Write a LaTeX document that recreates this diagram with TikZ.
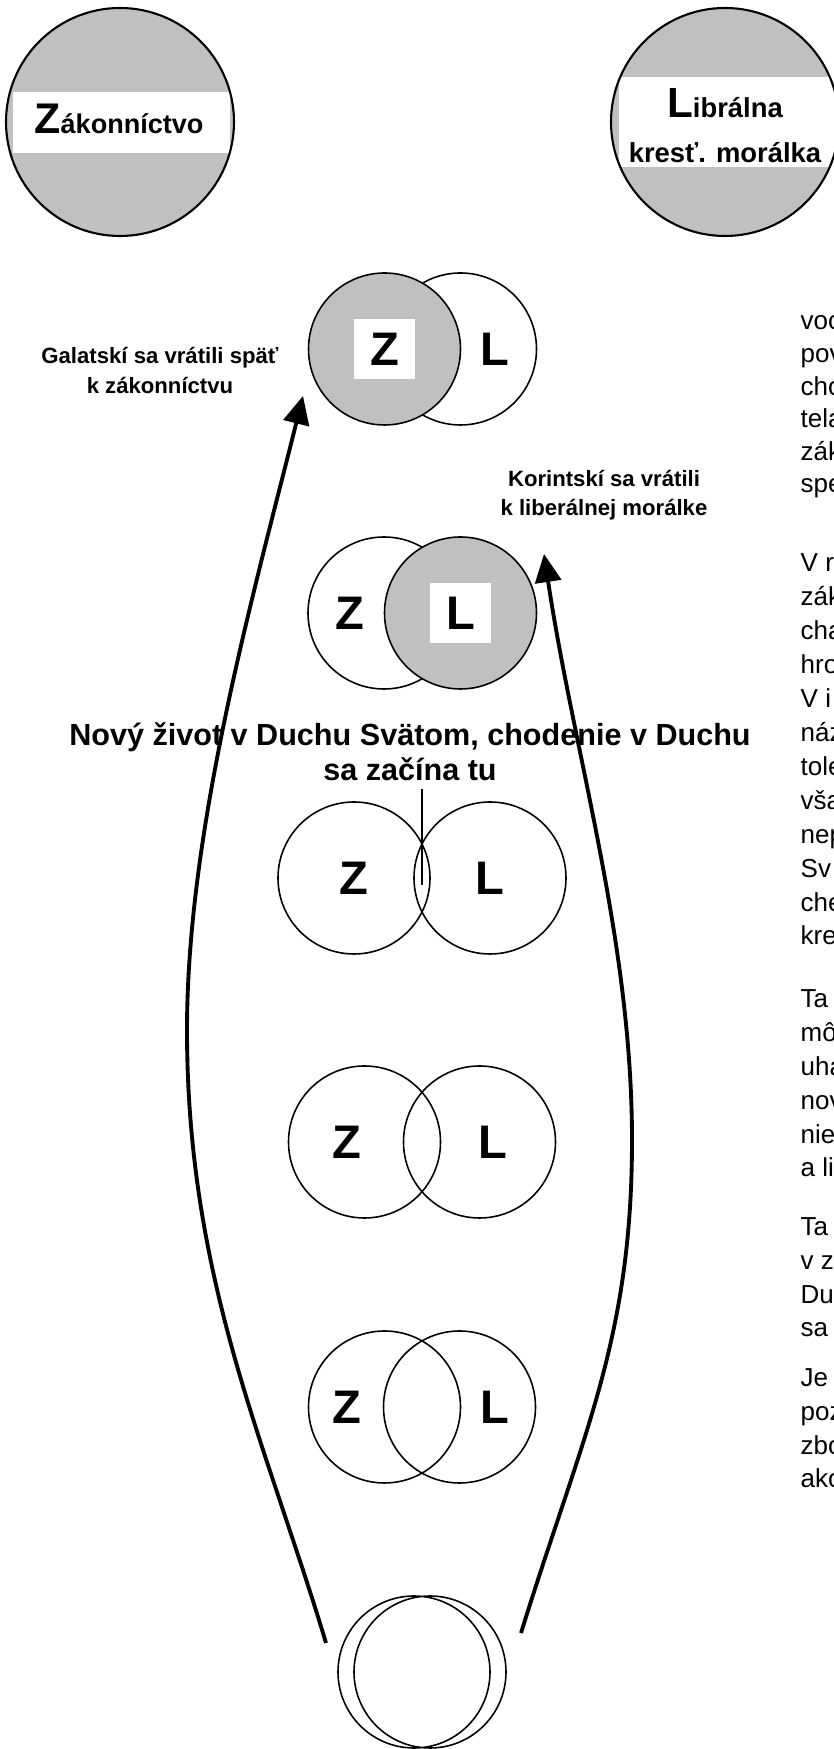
\documentclass[tikz,border=0pt]{standalone}
\usepackage{fontspec}
\setmainfont{Liberation Sans}
\usetikzlibrary{arrows.meta}
\definecolor{zlgray}{RGB}{192,192,192}
\tikzset{
  ring/.style={draw=black, line width=0.45pt},
  shaded/.style={ring, fill=zlgray},
  letter/.style={font=\fontsize{13.4}{14}\selectfont\bfseries, inner sep=0pt},
  letterbox/.style={letter, fill=white, minimum width=0.61cm, minimum height=0.60cm},
  sidelabel/.style={font=\fontsize{6.3}{8.8}\selectfont\bfseries, align=center, anchor=base, inner sep=0pt},
  para/.style={font=\fontsize{7.4}{9.67}\selectfont, align=left, anchor=base west, inner sep=0pt},
  backarrow/.style={line width=1.1pt, -{Triangle[length=8pt,width=7.4pt]}},
}
\begin{document}
\begin{tikzpicture}
\useasboundingbox (0,0) rectangle (8.33,17.49);

% Zakonnictvo
\fill[zlgray] (1.20,16.27) circle (1.14cm);
\fill[white] (0.13,15.96) rectangle (2.30,16.57);
\draw[line width=0.6pt] (1.20,16.27) circle (1.14cm);
\node[anchor=base, inner sep=0pt, font=\fontsize{7.7}{9}\selectfont\bfseries] (zak) at (1.19,16.15) {{\fontsize{12.2}{12}\selectfont Z}ákonníctvo};

% Libralna krest. moralka
\fill[zlgray] (7.25,16.27) circle (1.14cm);
\fill[white] (6.19,15.82) rectangle (8.45,16.72);
\draw[line width=0.6pt] (7.25,16.27) circle (1.14cm);
\node[anchor=base, inner sep=0pt, align=center, font=\fontsize{7.8}{12.8}\selectfont\bfseries] (lib) at (7.25,15.86) {{\fontsize{12}{12}\selectfont L}ibrálna\\kresť. morálka};

% Galatski: Z
\draw[ring] (4.605,14.00) circle (0.76cm);
\filldraw[shaded] (3.845,14.00) circle (0.76cm);
\node[letterbox] (z1) at (3.845,14.00) {Z};
\node[letter] (l1) at (4.95,14.00) {L};

% Korintski: L
\draw[ring] (3.84,11.36) circle (0.76cm);
\filldraw[shaded] (4.605,11.36) circle (0.76cm);
\node[letter] (z2) at (3.50,11.36) {Z};
\node[letterbox] (l2) at (4.605,11.36) {L};

% novy zivot
\draw[ring] (3.54,8.71) circle (0.76cm) (4.90,8.71) circle (0.76cm);
\node[letter] (z3) at (3.54,8.71) {Z};
\node[letter] (l3) at (4.90,8.71) {L};

\draw[ring] (3.645,6.07) circle (0.76cm) (4.795,6.07) circle (0.76cm);
\node[letter] (z4) at (3.47,6.07) {Z};
\node[letter] (l4) at (4.93,6.07) {L};

\draw[ring] (3.845,3.42) circle (0.76cm) (4.595,3.42) circle (0.76cm);
\node[letter] (z5) at (3.47,3.42) {Z};
\node[letter] (l5) at (4.95,3.42) {L};

\draw[ring] (4.14,0.77) circle (0.76cm) (4.30,0.77) circle (0.76cm);

% labels
\node[sidelabel] (gal) at (1.60,13.55) {Galatskí sa vrátili späť\\k zákonníctvu};
\node[sidelabel, font=\fontsize{6.3}{8.3}\selectfont\bfseries] (kor) at (6.04,12.33) {Korintskí sa vrátili\\k liberálnej morálke};
\node[sidelabel, font=\fontsize{8.7}{10.2}\selectfont\bfseries] (novy) at (4.10,9.68) {Nový život v Duchu Svätom, chodenie v Duchu\\sa začína tu};
\coordinate (meet) at (4.22,8.64);
\draw[ring] ([yshift=-2pt]novy.south -| meet) -- (meet);

% arrows
\coordinate (galFrom) at (3.26,1.06);
\coordinate (galTo) at (3.03,13.53);
\coordinate (korFrom) at (5.21,1.16);
\coordinate (korTo) at (5.44,11.95);
\draw[backarrow] (galFrom) .. controls (2.66,3.06) and (1.87,4.69) .. (1.87,7.19) .. controls (1.87,9.19) and (2.53,11.53) .. (galTo);
\draw[backarrow] (korFrom) .. controls (5.83,3.16) and (6.32,4.09) .. (6.32,6.09) .. controls (6.32,8.09) and (5.74,9.95) .. (korTo);

% text column
\node[para, font=\fontsize{7.4}{9.28}\selectfont] (p1) at (8.00,12.56) {voc\\pov\\cho\\tela\\zák\\spe};
\node[para] (p2) at (8.00,8.04) {V r\\zák\\cha\\hro\\V i\\náz\\tole\\vša\\nep\\Sv\\che\\kre};
\node[para] (p3) at (8.00,5.72) {Ta\\mô\\uha\\nov\\nie\\a li};
\node[para] (p4) at (8.00,4.12) {Ta\\v z\\Du\\sa};
\node[para] (p5) at (8.00,2.61) {Je\\poz\\zbo\\ako};
\end{tikzpicture}
\end{document}
